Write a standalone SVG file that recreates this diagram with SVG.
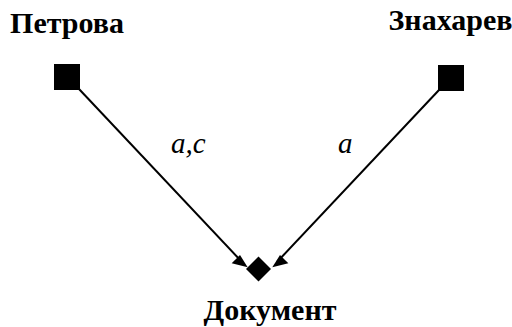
<svg xmlns="http://www.w3.org/2000/svg" width="512" height="327" viewBox="0 0 512 327">
<rect width="512" height="327" fill="#fff"/>
<g id="connectors">
<line x1="79" y1="89" x2="242" y2="262" stroke="#000" stroke-width="2"/>
<polygon points="247.7,267.3 231.7,263.3 240,255" fill="#000"/>
<line x1="439" y1="90" x2="277" y2="262" stroke="#000" stroke-width="2"/>
<polygon points="272.3,267.3 288.3,263.3 280,255" fill="#000"/>
<text x="171" y="153" font-family="Liberation Serif" font-style="italic" font-size="29">a,c</text>
<text x="338" y="153" font-family="Liberation Serif" font-style="italic" font-size="29">a</text>
</g>
<g id="petrova">
<rect x="54" y="64" width="26" height="26" fill="#000"/>
<text x="67" y="33" font-family="Liberation Serif" font-weight="bold" font-size="30" text-anchor="middle">Петрова</text>
</g>
<g id="znakharev">
<rect x="438" y="65" width="26" height="26" fill="#000"/>
<text x="450.5" y="30" font-family="Liberation Serif" font-weight="bold" font-size="30" text-anchor="middle">Знахарев</text>
</g>
<g id="dokument">
<polygon points="258.5,256.5 271,269 258.5,281.5 246,269" fill="#000"/>
<text x="270" y="320" font-family="Liberation Serif" font-weight="bold" font-size="30" text-anchor="middle">Документ</text>
</g>
</svg>
